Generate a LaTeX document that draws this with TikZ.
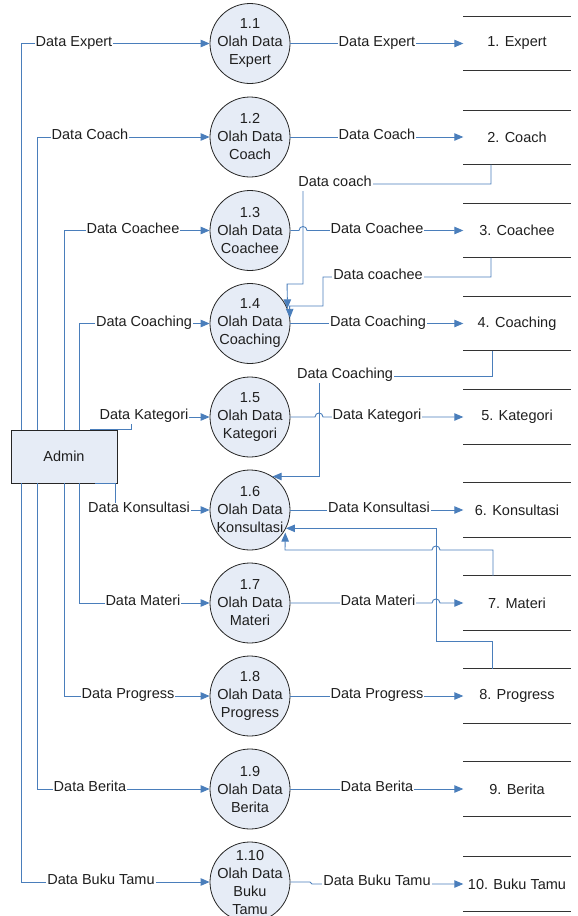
\documentclass[tikz,border=0pt]{standalone}
\usepackage{fontspec}
\setmainfont{Liberation Sans}
\usetikzlibrary{arrows.meta,calc}
\definecolor{flowblue}{HTML}{4A7EBB}
\definecolor{bubble}{HTML}{E6ECF6}
\begin{document}
\begin{tikzpicture}[x=1pt,y=-1pt,
  every node/.style={font=\fontsize{14.5}{18}\selectfont, text=black!88},
  proc/.style={circle, draw=black!85, line width=0.8pt, fill=bubble, minimum size=80pt, inner sep=0pt},
  ptext/.style={align=center, inner sep=0pt},
  entity/.style={rectangle, draw=black!85, line width=0.8pt, fill=bubble, minimum width=106pt, minimum height=53pt},
  store/.style={minimum width=107pt, minimum height=54pt, inner sep=0pt},
  storeline/.style={draw=black!80, line width=1pt},
  link/.style={draw=flowblue, line width=0.9pt},
  flow/.style={link, -{Triangle[length=9pt,width=7.5pt]}},
  lbl/.style={fill=white, inner sep=1pt, text height=9pt, text depth=3.5pt},
]
\useasboundingbox (0,0) rectangle (578,916);

% processes
\foreach \n/\y/\t in {
  1/43.5/{1.1\\Olah Data\\Expert},
  2/137/{1.2\\Olah Data\\Coach},
  3/230.5/{1.3\\Olah Data\\Coachee},
  4/323.5/{1.4\\Olah Data\\Coaching},
  5/417/{1.5\\Olah Data\\Kategori},
  6/510/{1.6\\Olah Data\\Konsultasi},
  7/603/{1.7\\Olah Data\\Materi},
  8/696/{1.8\\Olah Data\\Progress},
  9/789/{1.9\\Olah Data\\Berita},
  10/882/{1.10\\Olah Data\\Buku\\Tamu}} {
  \node[proc] (p\n) at (250,\y) {};
}

% data stores
\foreach \n/\y/\t in {
  1/43.5/1. Expert, 2/137.5/2. Coach, 3/230.5/3. Coachee, 4/323.5/4. Coaching,
  5/417/5. Kategori, 6/510/6. Konsultasi, 7/603/7. Materi, 8/696/8. Progress,
  9/789/9. Berita, 10/884/10. Buku Tamu} {
  \node[store] (s\n) at (517,\y) {\t};
  \draw[storeline] (s\n.north west) -- (s\n.north east)
                   (s\n.south west) -- (s\n.south east);
}

% external entity
\node[entity] (admin) at (64,456.5) {Admin};

% trunk columns leaving the entity
\coordinate (ta) at (21.5,0);
\coordinate (tb) at (37.5,0);
\coordinate (tc) at (64,0);
\coordinate (td) at (79.5,0);
\coordinate (ka) at (90,0);
\coordinate (kb) at (131,0);
\coordinate (kc) at (95,0);
\coordinate (kd) at (115,0);

% entity -> processes
\draw[flow] (admin.north -| ta) |- (p1.west);
\draw[flow] (admin.north -| tb) |- (p2.west);
\draw[flow] (admin.north -| tc) |- (p3.west);
\draw[flow] (admin.north -| td) |- (p4.west);
\draw[flow] (admin.north -| ka) -- (admin.north -| kb) |- (p5.west);
\draw[flow] (admin.south -| kc) -- (admin.south -| kd) |- (p6.west);
\draw[flow] (admin.south -| td) |- (p7.west);
\draw[flow] (admin.south -| tc) |- (p8.west);
\draw[flow] (admin.south -| tb) |- (p9.west);
\draw[flow] (admin.south -| ta) |- (p10.west);

% processes -> stores
\draw[flow] (p1.east) -- (p1.east -| s1.west);
\draw[flow] (p2.east) -- (p2.east -| s2.west);
\draw[flow] (p3.east) -- (299,230.5) .. controls (299,225.2) and (307,225.2) .. (307,230.5) -- (p3.east -| s3.west);
\draw[flow] (p4.east) -- (p4.east -| s4.west);
\draw[flow] (p5.east) -- (315,417) .. controls (315,411.7) and (323,411.7) .. (323,417) -- (p5.east -| s5.west);
\draw[flow] (p6.east) -- (p6.east -| s6.west);
\draw[flow] (p7.east) -- (432,603) .. controls (432,597.7) and (440,597.7) .. (440,603) -- (p7.east -| s7.west);
\draw[flow] (p8.east) -- (p8.east -| s8.west);
\draw[flow] (p9.east) -- (p9.east -| s9.west);
\draw[flow] (p10.east) -- (310,882) -- (312,884) -- (s10.west);

% stores read back by processes
\coordinate (fa) at (491,0);
\coordinate (fb) at (492,0);
\coordinate (fc) at (493,0);
\draw[flow] (s2.south -| fa) -- (491,184) -- (303,184) -- (303,284) -- (287.1,284) -- (p4.22);
\draw[flow] (s3.south -| fa) -- (491,277) -- (323,277) -- (323,306) -- (289.6,306) -- (p4.8);
\draw[flow] (s4.south -| fb) -- (492,376) -- (319,376) |- (p6.56);
\draw[flow, shorten >=3pt] (s7.north -| fc) -- (493,550) -- (440,550)
  .. controls (440,544.7) and (432,544.7) .. (432,550) -- (285,550) -- (p6.-29);
\draw[flow] (s8.north -| fb) -- (492,641) -- (436,641) |- (p6.-27);

% flow labels
\node[lbl] (la1) at (74,43.5) {Data Expert};
\node[lbl] (la2) at (90,137) {Data Coach};
\node[lbl] (la3) at (133,230.5) {Data Coachee};
\node[lbl] (la4) at (144,323.5) {Data Coaching};
\node[lbl] (la5) at (144,417) {Data Kategori};
\node[lbl] (la6) at (139,510) {Data Konsultasi};
\node[lbl] (la7) at (143,603) {Data Materi};
\node[lbl] (la8) at (128,696) {Data Progress};
\node[lbl] (la9) at (90,789) {Data Berita};
\node[lbl] (la10) at (101,882) {Data Buku Tamu};

\node[lbl] (lb1) at (377,43.5) {Data Expert};
\node[lbl] (lb2) at (377,137) {Data Coach};
\node[lbl] (lb3) at (377,230.5) {Data Coachee};
\node[lbl] (lb4) at (378,323.5) {Data Coaching};
\node[lbl] (lb5) at (377,417) {Data Kategori};
\node[lbl] (lb6) at (379,510) {Data Konsultasi};
\node[lbl] (lb7) at (378,603) {Data Materi};
\node[lbl] (lb8) at (377,696) {Data Progress};
\node[lbl] (lb9) at (377,789) {Data Berita};
\node[lbl] (lb10) at (377,883) {Data Buku Tamu};

\node[lbl] (lc1) at (335,184) {Data coach};
\node[lbl] (lc2) at (378,277) {Data coachee};
\node[lbl] (lc3) at (345,376) {Data Coaching};

% process captions
\foreach \n/\t in {
  1/{1.1\\Olah Data\\Expert},
  2/{1.2\\Olah Data\\Coach},
  3/{1.3\\Olah Data\\Coachee},
  4/{1.4\\Olah Data\\Coaching},
  5/{1.5\\Olah Data\\Kategori},
  6/{1.6\\Olah Data\\Konsultasi},
  7/{1.7\\Olah Data\\Materi},
  8/{1.8\\Olah Data\\Progress},
  9/{1.9\\Olah Data\\Berita},
  10/{1.10\\Olah Data\\Buku\\Tamu}} {
  \node[ptext] (pt\n) at (p\n) {\t};
}
\end{tikzpicture}
\end{document}
